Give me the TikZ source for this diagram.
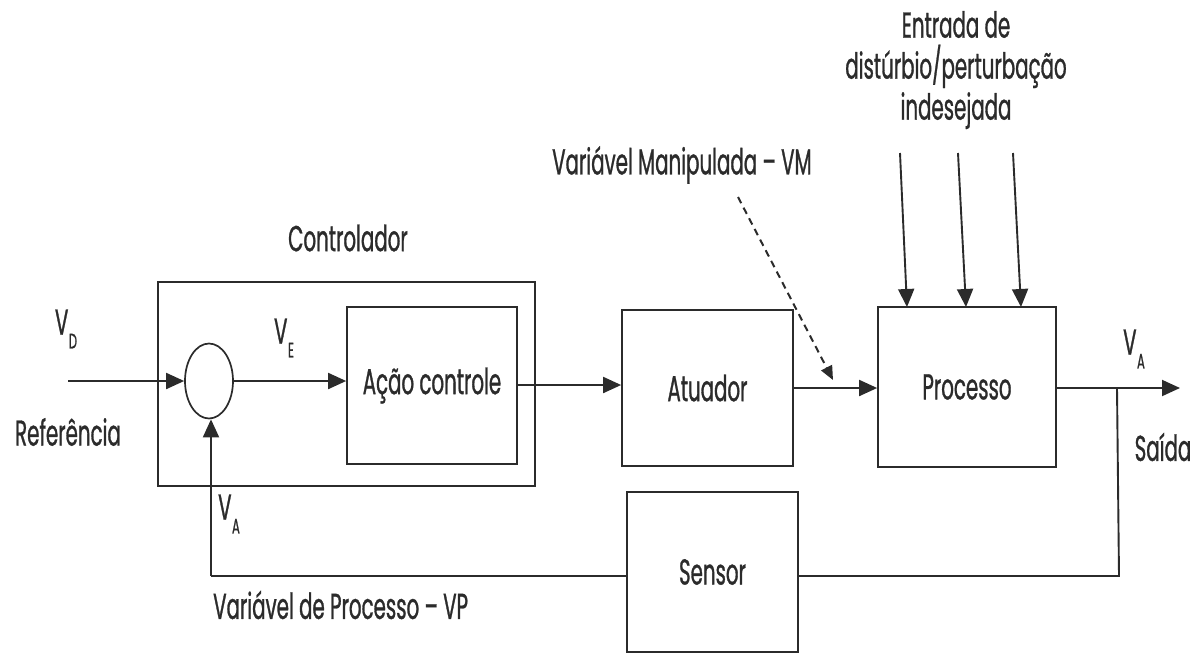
\documentclass[tikz,border=0pt]{standalone}
\usepackage{fontspec}
\setmainfont{Poppins}[FakeStretch=0.55, FakeBold=0.8]
\usetikzlibrary{arrows.meta,calc,shapes.geometric}
\newcommand{\Vsub}[1]{V\kern0.5pt\raisebox{-0.7ex}{\fontsize{21}{21}\selectfont #1}}
\definecolor{ink}{HTML}{2B2B2B}
\begin{document}
\begin{tikzpicture}[x=1pt,y=-1pt,
  every node/.style={font=\fontsize{36}{40}\selectfont, text=ink},
  blk/.style={draw=ink, line width=1.7pt, inner sep=0pt},
  wire/.style={draw=ink, line width=1.9pt},
  sig/.style={wire, -{Triangle[length=18pt,width=16pt]}},
  hint/.style={draw=ink, line width=2pt, dash pattern=on 7pt off 5pt, -{Triangle[length=14pt,width=12pt]}}
]
\useasboundingbox (0,0) rectangle (1200,654);

% controller enclosure and its blocks
\node[blk, minimum width=377pt, minimum height=204pt] (ctrl) at (346.5,384) {};
\node (ctrllbl) at (348,238) {Controlador};
\node[draw=ink, ellipse, line width=1.7pt, minimum width=48pt, minimum height=75pt, inner sep=0pt] (sum) at (209,381) {};
\node[blk, minimum width=170pt, minimum height=157pt] (acao) at (432,385.5) {Ação controle};
\node[blk, minimum width=171pt, minimum height=156pt] (atu) at (707.5,388) {Atuador};
\node[blk, minimum width=178pt, minimum height=160pt] (proc) at (967,387) {Processo};
\node[blk, minimum width=171pt, minimum height=160pt] (sens) at (712.5,572) {Sensor};

% signal labels
\node (vd) at (66,329) {\Vsub{D}};
\node (ref) at (68,432) {Referência};
\node (ve) at (284,338) {\Vsub{E}};
\node (vaout) at (1134,349) {\Vsub{A}};
\node (said) at (1163,447) {Saída};
\node (vafb) at (229,514) {\Vsub{A}};
\node[anchor=west, inner sep=0pt] (vp) at (213,605) {Variável de Processo – VP};
\node[anchor=west, inner sep=0pt] (vm) at (552,165) {Variável Manipulada – VM};
\node[align=center, font=\fontsize{36}{41}\selectfont] (dist) at (956,70)
  {Entrada de\\distúrbio/perturbação\\indesejada};

% forward path
\coordinate (in) at (68,381);
\draw[sig] (in) -- (sum.west);
\draw[sig] (sum.east) -- (sum.east -| acao.west);
\draw[sig] (acao.east |- 0,385) -- (atu.west |- 0,385);
\draw[sig] (atu.east |- 0,388) -- (proc.west |- 0,388);
\coordinate (out) at (1180,388);
\draw[sig] (proc.east |- out) -- (out);

% manipulated-variable pointer
\coordinate (vmtail) at (738,197);
\coordinate (vmtip) at (833,380);
\draw[hint] (vmtail) -- (vmtip);

% disturbance inputs
\foreach \xt/\xb/\n in {900/907/d1,958/966/d2,1013/1021/d3}{
  \coordinate (\n) at (\xt,153);
  \draw[sig] (\n) -- (\xb,307);
}

% feedback loop through the sensor
\coordinate (tap) at (1117,388);
\coordinate (tapdn) at (1119,576);
\coordinate (fbcorner) at (211,576);
\draw[wire] (tap) -- (tapdn) -- (tapdn -| sens.east);
\draw[wire] (sens.west |- fbcorner) -- (fbcorner);
\draw[sig] (fbcorner) -- (fbcorner |- sum.south);
\end{tikzpicture}
\end{document}
